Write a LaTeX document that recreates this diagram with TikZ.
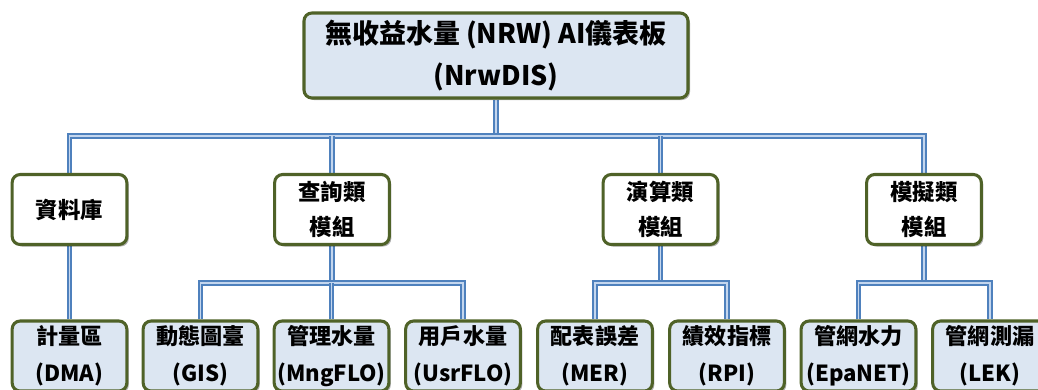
\documentclass[tikz,border=0pt]{standalone}
\usepackage{fontspec}
\newfontfamily\cjk{Noto Sans CJK TC}
\usetikzlibrary{shadows,backgrounds}
\definecolor{boxblue}{RGB}{220,230,242}
\definecolor{boxgreen}{RGB}{79,98,40}
\definecolor{connblue}{RGB}{79,129,189}
\definecolor{connlight}{RGB}{196,214,238}
\tikzset{
 box/.style={draw=boxgreen, line width=2.3pt, rounded corners=6pt, align=center, text=black,
   minimum width=86pt, minimum height=52.5pt, inner sep=0pt,
   drop shadow={shadow xshift=1.5pt, shadow yshift=-1.5pt, opacity=0.3, fill=black}},
 topbox/.style={box, fill=boxblue, minimum width=288pt, minimum height=63.75pt,
   font=\cjk\bfseries\fontsize{20.2}{32}\selectfont},
 midbox/.style={box, fill=white, font=\cjk\bfseries\fontsize{16.8}{26}\selectfont},
 leafbox/.style={box, fill=boxblue, font=\cjk\bfseries\fontsize{16.6}{27.5}\selectfont},
 conn/.style={draw=connblue, double=connlight, double distance=1pt, line width=1.45pt}
}
\begin{document}
\begin{tikzpicture}[x=0.75pt,y=-0.75pt]
\useasboundingbox (0,0) rectangle (1038,389);
\clip (0,0) rectangle (1038,389);
% level 1
\node[topbox] (top) at (496,55.5) {無收益水量 (NRW) AI儀表板\\(NrwDIS)};
% level 2
\node[midbox] (db)  at (69.5,209.5) {資料庫};
\node[midbox] (qry) at (332,209.5) {查詢類\\模組};
\node[midbox] (alg) at (660.5,209.5) {演算類\\模組};
\node[midbox] (sim) at (924,209.5) {模擬類\\模組};
% level 3
\node[leafbox] (dma) at (69.5,356) {計量區\\(DMA)};
\node[leafbox] (gis) at (200.5,356) {動態圖臺\\(GIS)};
\node[leafbox] (mng) at (331.5,356) {管理水量\\(MngFLO)};
\node[leafbox] (usr) at (463,356) {用戶水量\\(UsrFLO)};
\node[leafbox] (mer) at (595,356) {配表誤差\\(MER)};
\node[leafbox] (rpi) at (727,356) {績效指標\\(RPI)};
\node[leafbox] (epa) at (858.5,356) {管網水力\\(EpaNET)};
\node[leafbox] (lek) at (990,356) {管網測漏\\(LEK)};
% bus coordinates
\coordinate (b1) at (497,136);
\coordinate (b2) at (332,283);
\coordinate (b3) at (660.5,283);
\coordinate (b4) at (924,283);
\begin{scope}[on background layer]
\draw[conn] (top.south) -- (top.south |- b1);
\draw[conn] (db.north) |- (b1) -| (sim.north);
\draw[conn] (qry.north) -- (qry.north |- b1);
\draw[conn] (alg.north) -- (alg.north |- b1);
\draw[conn] (db.south) -- (dma.north);
\draw[conn] (qry.south) -- (b2);
\draw[conn] (gis.north) |- (b2) -| (usr.north);
\draw[conn] (mng.north) -- (mng.north |- b2);
\draw[conn] (alg.south) -- (b3);
\draw[conn] (mer.north) |- (b3) -| (rpi.north);
\draw[conn] (sim.south) -- (b4);
\draw[conn] (epa.north) |- (b4) -| (lek.north);
\end{scope}
\end{tikzpicture}
\end{document}
